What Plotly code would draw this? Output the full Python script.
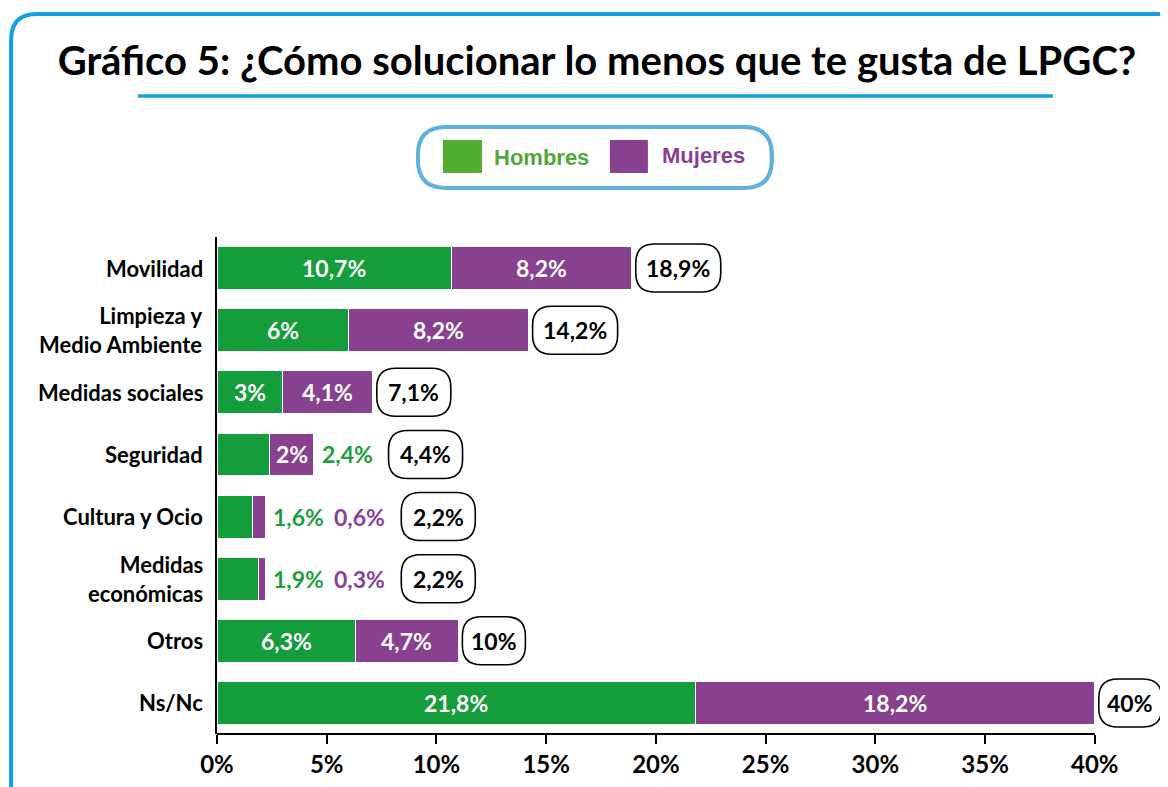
import plotly.graph_objects as go

# datos del grafico 5
categorias = ["Movilidad", "Limpieza y<br>Medio Ambiente", "Medidas sociales", "Seguridad",
              "Cultura y Ocio", "Medidas<br>económicas", "Otros", "Ns/Nc"]
hombres = [10.7, 6, 3, 2.4, 1.6, 1.9, 6.3, 21.8]
mujeres = [8.2, 8.2, 4.1, 2.0, 0.6, 0.3, 4.7, 18.2]
totales = ["18,9%", "14,2%", "7,1%", "4,4%", "2,2%", "2,2%", "10%", "40%"]
ticks_x = [0, 5, 10, 15, 20, 25, 30, 35, 40]

VERDE = '#159c3b'
MORADO = '#87418f'
VERDE_TXT = '#1e9e3e'
MORADO_TXT = '#8b3f9c'
AZUL = '#12a0e2'
AZUL_LEY = '#5db0e0'
FUENTE = 'Lato'

# la pagina tiene 8px de margen en el body
OFF = 8
W, H = 1168 - OFF, 787 - OFF
XMAX = 43.2
px_unidad = 878 / 40.0
ML, MT = 217 - OFF, 237 - OFF
pw = px_unidad * XMAX
ph = 497
MR = W - ML - pw
MB = H - MT - ph


def px(p):  # pixel de la captura -> paper
    return (p - OFF - ML) / pw


def py(p):
    return (MT + ph - (p - OFF)) / ph


def fmt(v):
    return ('%g' % v).replace('.', ',') + '%'


def ancho_txt(t):
    return 11.5 * len(t) + 4


def caja(x0, y0, x1, y1, rx, ry):
    return ('M %g,%g L %g,%g Q %g,%g %g,%g L %g,%g Q %g,%g %g,%g L %g,%g Q %g,%g %g,%g '
            'L %g,%g Q %g,%g %g,%g Z') % (
        x0 + rx, y0, x1 - rx, y0, x1, y0, x1, y0 + ry, x1, y1 - ry, x1, y1, x1 - rx, y1,
        x0 + rx, y1, x0, y1, x0, y1 - ry, x0, y0 + ry, x0, y0, x0 + rx, y0)


idx = list(range(len(categorias)))

fig = go.Figure()
fig.add_trace(go.Bar(y=idx, x=hombres, orientation='h', name='Hombres',
                     marker=dict(color=VERDE, line=dict(color='white', width=1)),
                     width=0.69, hoverinfo='skip'))
fig.add_trace(go.Bar(y=idx, x=mujeres, orientation='h', name='Mujeres',
                     marker=dict(color=MORADO, line=dict(color='white', width=1)),
                     width=0.69, hoverinfo='skip'))

anots = []
shapes = []
for i in idx:
    h, m = hombres[i], mujeres[i]
    fin = h + m
    off = 6
    fuera = False
    for ini, v, col_txt in [(0, h, VERDE_TXT), (h, m, MORADO_TXT)]:
        t = fmt(v)
        if v * px_unidad >= ancho_txt(t) + 12:
            anots.append(dict(x=ini + v / 2, y=i, text=t, showarrow=False,
                              font=dict(family=FUENTE, size=23, color='white', weight='bold')))
        else:
            fuera = True
            anots.append(dict(x=fin, y=i, xanchor='left', xshift=off, text=t, showarrow=False,
                              font=dict(family=FUENTE, size=23, color=col_txt, weight='bold')))
            off += 52 + 9
    gap = off + 8 if fuera else 4
    wb = 11 * len(totales[i]) + 30
    shapes.append(dict(type='path', xref='x', yref='y', xsizemode='pixel', ysizemode='pixel',
                       xanchor=fin, yanchor=i,
                       path=caja(gap, -24, gap + wb, 24, 19, 19),
                       line=dict(color='black', width=1.6), fillcolor='white', layer='above'))
    anots.append(dict(x=fin, y=i, xshift=gap + wb / 2, text=totales[i], showarrow=False,
                      font=dict(family=FUENTE, size=23, color='black', weight='bold')))

# etiquetas de categoria
for i in idx:
    anots.append(dict(xref='paper', yref='y', x=0, y=i, xanchor='right', yanchor='middle',
                      xshift=-12, align='right', text=categorias[i], showarrow=False,
                      font=dict(family=FUENTE, size=22, color='black', weight='bold')))

# eje x solo hasta 40
shapes.append(dict(type='line', xref='x', yref='paper', x0=0, x1=40, y0=0, y1=0,
                   line=dict(color='black', width=2), layer='below'))

# marco azul exterior
r = 26
fx0, fy0 = 11, 14
fx1, fy1 = 1190, 810
shapes.append(dict(type='path', xref='paper', yref='paper',
                   path='M %g,%g L %g,%g Q %g,%g %g,%g L %g,%g' % (
                       px(fx0), py(fy1), px(fx0), py(fy0 + r), px(fx0), py(fy0),
                       px(fx0 + r), py(fy0), px(fx1), py(fy0)),
                   line=dict(color=AZUL, width=4)))
# linea bajo el titulo
shapes.append(dict(type='line', xref='paper', yref='paper', x0=px(138), x1=px(1053),
                   y0=py(96), y1=py(96), line=dict(color=AZUL, width=3.5)))

# leyenda manual
lx0, ly0, lx1, ly1, lr = 418, 127, 772, 188, 28
shapes.append(dict(type='path', xref='paper', yref='paper',
                   path=caja(px(lx0), py(ly0), px(lx1), py(ly1), lr / pw, -lr / ph),
                   line=dict(color=AZUL_LEY, width=4), fillcolor='white', layer='below'))
shapes.append(dict(type='rect', xref='paper', yref='paper', x0=px(443), x1=px(482),
                   y0=py(140), y1=py(173), fillcolor='#52ad31', line=dict(width=0)))
shapes.append(dict(type='rect', xref='paper', yref='paper', x0=px(610), x1=px(648),
                   y0=py(140), y1=py(173), fillcolor=MORADO, line=dict(width=0)))
anots.append(dict(xref='paper', yref='paper', x=px(492), y=py(157), xanchor='left', yanchor='middle',
                  text='Hombres', showarrow=False,
                  font=dict(family='Liberation Sans', size=22, color='#52a93a', weight='bold')))
anots.append(dict(xref='paper', yref='paper', x=px(660), y=py(155), xanchor='left', yanchor='middle',
                  text='Mujeres', showarrow=False,
                  font=dict(family='Liberation Sans', size=22, color='#8a3f97', weight='bold')))

fig.update_layout(
    width=W, height=H,
    margin=dict(l=ML, r=MR, t=MT, b=MB, autoexpand=False),
    barmode='stack',
    showlegend=False,
    plot_bgcolor='white', paper_bgcolor='white',
    title=dict(text='Gráfico 5: ¿Cómo solucionar lo menos que te gusta de LPGC?',
               x=(597 - OFF) / W, xanchor='center', y=1 - (61 - OFF) / H, yanchor='middle',
               font=dict(family=FUENTE, size=40, color='black', weight='bold')),
    shapes=shapes,
    annotations=anots,
)
fig.update_xaxes(range=[0, XMAX], tickvals=ticks_x, ticktext=[f'{t}%' for t in ticks_x],
                 showgrid=False, zeroline=False, showline=False, ticks='outside', ticklen=9,
                 tickwidth=1.5, tickcolor='black', layer='below traces', ticklabelstandoff=0,
                 tickfont=dict(family=FUENTE, size=24, color='black', weight='bold'))
fig.update_yaxes(range=[7.5, -0.5], tickvals=idx, showticklabels=False, showgrid=False,
                 zeroline=False, showline=True, linecolor='black', linewidth=2, ticks='',
                 layer='below traces')

fig.write_html("out.html")
